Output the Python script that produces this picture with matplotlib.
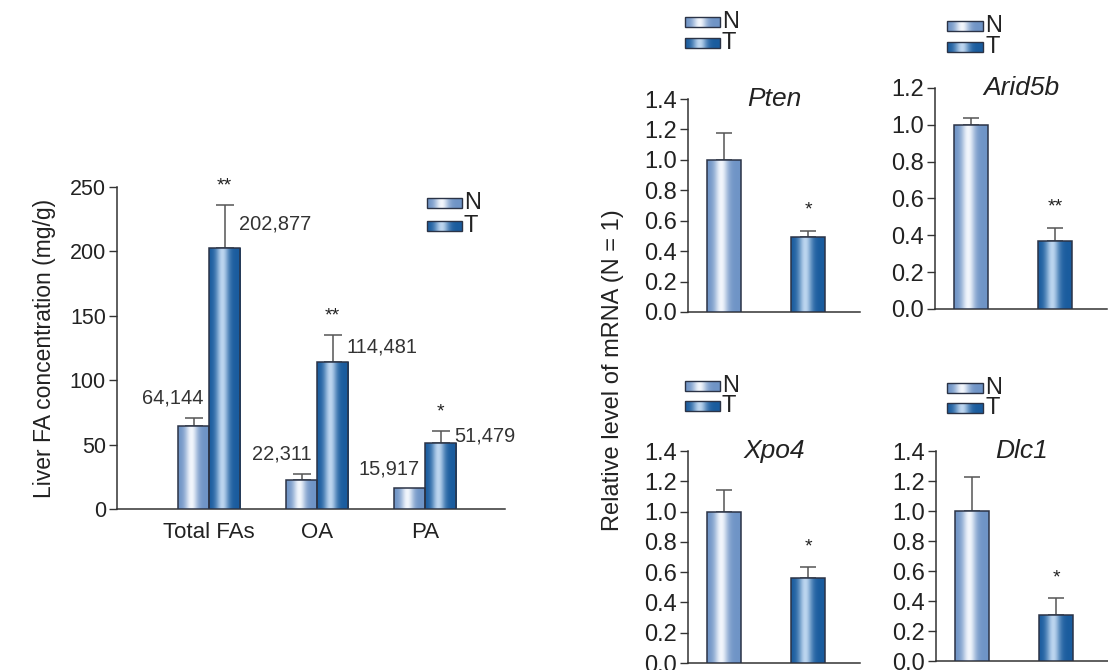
import numpy as np
import matplotlib
matplotlib.use("Agg")
import matplotlib.pyplot as plt
from matplotlib.colors import LinearSegmentedColormap
from matplotlib.patches import Rectangle

plt.rcParams['font.family'] = ['Liberation Sans', 'DejaVu Sans']

# ---------------- data ----------------
fa_groups = ["Total FAs", "OA", "PA"]
fa_N = [64.144, 22.311, 15.917]
fa_T = [202.877, 114.481, 51.479]
fa_N_err = [6.5, 4.7, 0.0]
fa_T_err = [33.0, 20.5, 9.0]
fa_N_labels = ["64,144", "22,311", "15,917"]
fa_T_labels = ["202,877", "114,481", "51,479"]
fa_sig = ["**", "**", "*"]
fa_yticks = [0, 50, 100, 150, 200, 250]

genes = ["Pten", "Arid5b", "Xpo4", "Dlc1"]
gene_N = [1.0, 1.0, 1.0, 1.0]
gene_N_err = [0.175, 0.035, 0.145, 0.225]
gene_T = [0.49, 0.37, 0.56, 0.31]
gene_T_err = [0.045, 0.07, 0.075, 0.11]
gene_sig = ["*", "**", "*", "*"]
gene_ymax = [1.4, 1.2, 1.4, 1.4]
gene_yticks = [[0, 0.2, 0.4, 0.6, 0.8, 1.0, 1.2, 1.4],
               [0, 0.2, 0.4, 0.6, 0.8, 1.0, 1.2],
               [0, 0.2, 0.4, 0.6, 0.8, 1.0, 1.2, 1.4],
               [0, 0.2, 0.4, 0.6, 0.8, 1.0, 1.2, 1.4]]

# ---------------- style ----------------
W, H = 1108, 670
fig = plt.figure(figsize=(W / 100, H / 100), dpi=100)

def px_axes(x0, y0, x1, y1):
    """axes rectangle from pixel coords (top-left origin)"""
    return fig.add_axes([x0 / W, 1 - y1 / H, (x1 - x0) / W, (y1 - y0) / H])

def grad_cmap(edge, hi):
    return LinearSegmentedColormap.from_list("g", [edge, hi])

cmap_N = grad_cmap("#6f94c6", "#f2f6fc")
cmap_T = grad_cmap("#1a5c9e", "#bcd5ef")
t = np.linspace(0, 1, 200)
profile = np.exp(-((t - 0.42) / 0.2) ** 2)
profile = profile[None, :]
EDGE = "#2b3346"
SPINE = "#333333"
TXT = "#222222"

def gradient_bars(ax, bars, cmap):
    for b in bars:
        x, y = b.get_x(), b.get_y()
        w, h = b.get_width(), b.get_height()
        im = ax.imshow(profile, cmap=cmap, vmin=0, vmax=1, aspect='auto',
                       extent=[x, x + w, y, y + h], zorder=b.get_zorder() - 0.1,
                       interpolation='bilinear')
        im.set_clip_path(b)

def style_axes(ax, ymax, yticks, fmt, fs):
    for s in ['top', 'right']:
        ax.spines[s].set_visible(False)
    ax.spines['left'].set_bounds(0, ymax)
    for s in ['left', 'bottom']:
        ax.spines[s].set_color(SPINE)
        ax.spines[s].set_linewidth(1.1)
    ax.set_yticks(yticks)
    ax.set_yticklabels([fmt(v) for v in yticks], fontsize=fs, color=TXT)
    ax.tick_params(axis='y', direction='out', length=6, width=1.0, color=SPINE, pad=2)
    ax.patch.set_alpha(0)

# ---------------- left chart ----------------
axL = px_axes(117, 187, 505, 509)
x = np.arange(len(fa_groups))
bw = 0.287
bN = axL.bar(x - bw / 2, fa_N, bw, color='none', edgecolor=EDGE, linewidth=1.1, zorder=3)
bT = axL.bar(x + bw / 2, fa_T, bw, color='none', edgecolor=EDGE, linewidth=1.1, zorder=3)
gradient_bars(axL, bN, cmap_N)
gradient_bars(axL, bT, cmap_T)
for i in range(len(x)):
    if fa_N_err[i] > 0:
        axL.errorbar(x[i] - bw / 2, fa_N[i], yerr=[[0], [fa_N_err[i]]], color="#555555",
                     capsize=6.8, elinewidth=1.1, capthick=1.1, zorder=2)
    axL.errorbar(x[i] + bw / 2, fa_T[i], yerr=[[0], [fa_T_err[i]]], color="#555555",
                 capsize=6.8, elinewidth=1.1, capthick=1.1, zorder=2)
    axL.text(x[i] + bw / 2, fa_T[i] + fa_T_err[i] + 8, fa_sig[i], ha='center', va='bottom',
             fontsize=14, color=TXT)
    axL.text(x[i] - 0.05, fa_N[i] + fa_N_err[i] + 8, fa_N_labels[i],
             ha='right', va='bottom', fontsize=14.4, color="#333333")
    axL.text(x[i] + bw / 2 + 0.13, fa_T[i] + fa_T_err[i] * 0.55, fa_T_labels[i],
             ha='left', va='center', fontsize=14.4, color="#333333")
style_axes(axL, 250, fa_yticks, lambda v: f"{v:d}", 15.5)
axL.set_xlim(-0.852, 2.74)
axL.set_ylim(0, 250)
axL.set_xticks(x)
axL.set_xticklabels(fa_groups, fontsize=16, color=TXT)
axL.tick_params(axis='x', length=0, pad=9)
axL.set_ylabel("Liver FA concentration (mg/g)", fontsize=16.5, color=TXT, labelpad=10)

# ---------------- right panels ----------------
panel_px = [(688, 99, 860, 312), (935, 88, 1107, 309), (688, 451, 860, 663), (936, 451, 1108, 661)]
gw = 0.405
for k, g in enumerate(genes):
    ax = px_axes(*panel_px[k])
    xs = np.array([0, 1])
    b1 = ax.bar(xs[0], gene_N[k], gw, color='none', edgecolor=EDGE, linewidth=1.1, zorder=3)
    b2 = ax.bar(xs[1], gene_T[k], gw, color='none', edgecolor=EDGE, linewidth=1.1, zorder=3)
    gradient_bars(ax, b1, cmap_N)
    gradient_bars(ax, b2, cmap_T)
    ax.errorbar(xs[0], gene_N[k], yerr=[[0], [gene_N_err[k]]], color="#555555",
                capsize=6, elinewidth=1.1, capthick=1.1, zorder=2)
    ax.errorbar(xs[1], gene_T[k], yerr=[[0], [gene_T_err[k]]], color="#555555",
                capsize=6, elinewidth=1.1, capthick=1.1, zorder=2)
    ax.text(xs[1], gene_T[k] + gene_T_err[k] + gene_ymax[k] * 0.055, gene_sig[k],
            ha='center', va='bottom', fontsize=14, color=TXT)
    style_axes(ax, gene_ymax[k], gene_yticks[k], lambda v: f"{v:.1f}", 17)
    ax.set_xlim(-0.43, 1.62)
    ax.set_ylim(0, gene_ymax[k])
    ax.set_xticks([])
    ax.text(0.5, 1.0, g, transform=ax.transAxes, ha='center', va='center',
            fontsize=19, style='italic', color=TXT)

fig.text(613 / W, 1 - 370 / H, "Relative level of mRNA (N = 1)", rotation=90,
         ha='center', va='center', fontsize=17, color=TXT)

# ---------------- legends (overlay) ----------------
ov = fig.add_axes([0, 0, 1, 1], zorder=10)
ov.axis('off')
# (x0, y_center_N, x1, rect height, font size, vertical gap)
leg_pos = [(427, 203, 462, 10, 17, 23), (685, 22, 720, 10, 17, 21), (947, 26, 983, 10, 17, 21),
           (685, 386, 720, 10, 17, 20), (947, 388, 983, 10, 17, 20)]
for (x0, yc, x1, h, fs, gap) in leg_pos:
    for j, (lab, cm) in enumerate([("N", cmap_N), ("T", cmap_T)]):
        y = yc + j * gap
        r = Rectangle((x0, y - h / 2), x1 - x0, h, facecolor='none', edgecolor=EDGE,
                      linewidth=1.0, zorder=3)
        ov.add_patch(r)
        im = ov.imshow(profile, cmap=cm, vmin=0, vmax=1, aspect='auto',
                       extent=[x0, x1, y + h / 2, y - h / 2], zorder=2, interpolation='bilinear')
        im.set_clip_path(r)
        ov.text(x1 + 2, y, lab, ha='left', va='center', fontsize=fs, color=TXT)
ov.set_xlim(0, W)
ov.set_ylim(H, 0)

fig.savefig("out.png", dpi=100)
